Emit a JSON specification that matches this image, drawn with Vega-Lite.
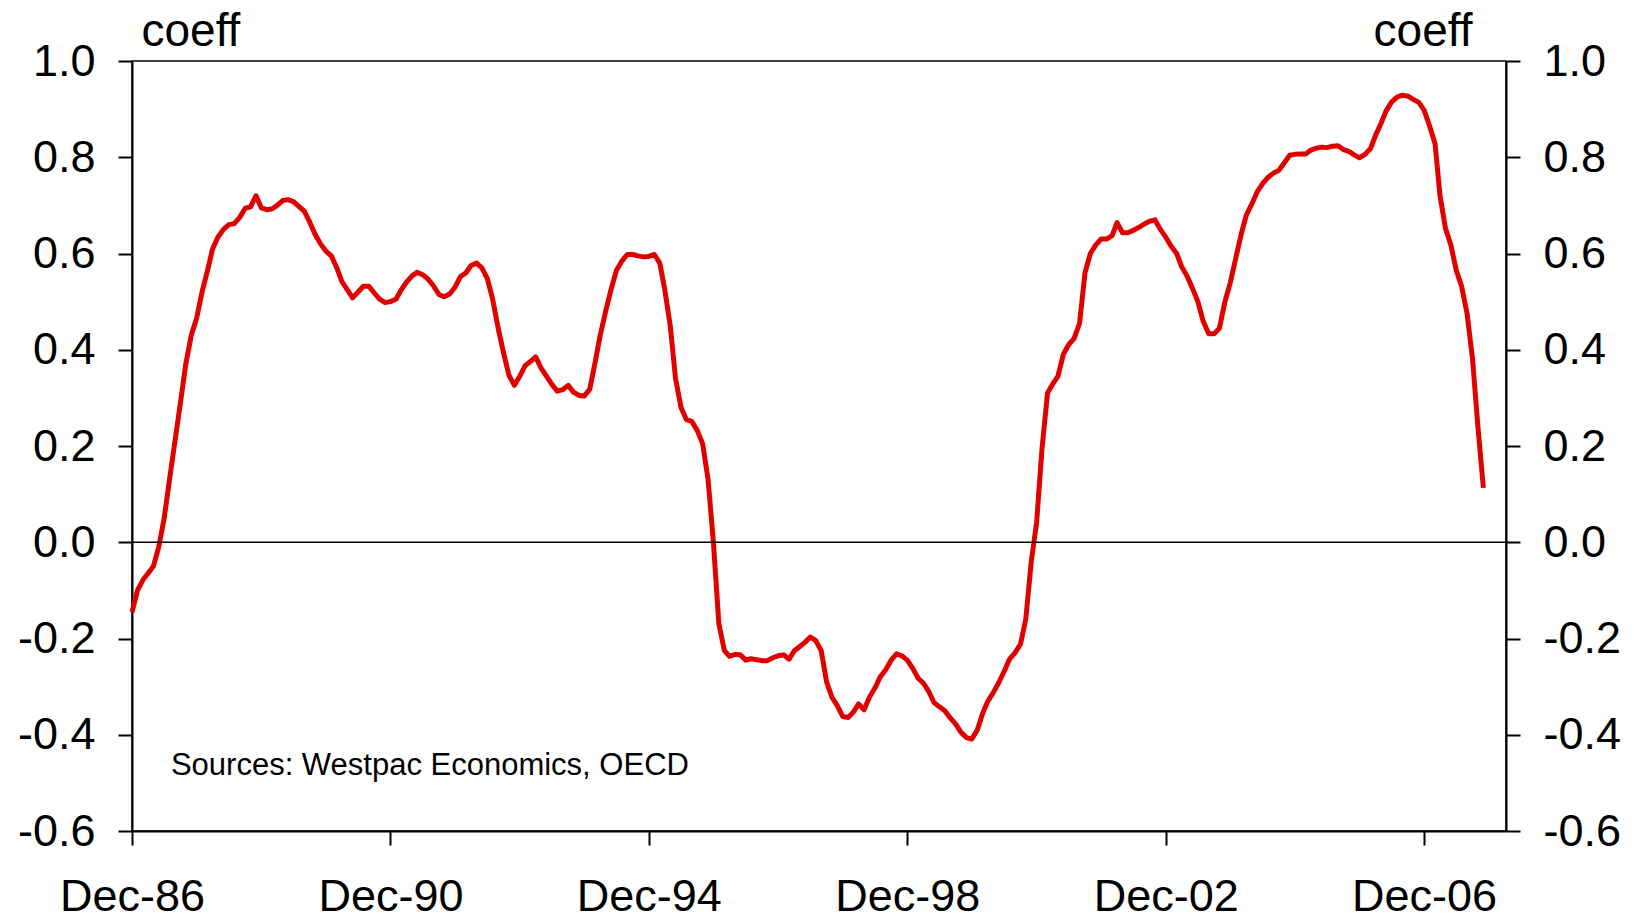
{
  "$schema": "https://vega.github.io/schema/vega-lite/v6.json",
  "autosize": {"type": "none"},
  "padding": {"left": 132, "top": 61, "right": 133, "bottom": 89},
  "width": 1374,
  "height": 770,
  "background": "white",
  "config": {
    "view": {"stroke": "black", "strokeWidth": 1.5},
    "axis": {
      "domainColor": "black", "domainWidth": 2, "tickColor": "black", "tickWidth": 2, "tickSize": 14,
      "grid": false, "labelFont": "Liberation Sans", "labelFontSize": 45, "labelColor": "black",
      "titleFont": "Liberation Sans", "titleFontSize": 46, "titleFontWeight": "normal", "titleColor": "black",
      "labelFlush": false, "labelOverlap": false
    }
  },
  "layer": [
    {
      "data": {"values": [
        {"d":"1986-12-01","v":-0.145},{"d":"1987-01-01","v":-0.10},{"d":"1987-02-01","v":-0.078},{"d":"1987-03-01","v":-0.065},
        {"d":"1987-04-01","v":-0.05},{"d":"1987-05-01","v":-0.01},{"d":"1987-06-01","v":0.05},{"d":"1987-07-01","v":0.13},
        {"d":"1987-08-01","v":0.21},{"d":"1987-09-01","v":0.29},{"d":"1987-10-01","v":0.37},{"d":"1987-11-01","v":0.43},
        {"d":"1987-12-01","v":0.465},{"d":"1988-01-01","v":0.52},{"d":"1988-02-01","v":0.565},{"d":"1988-03-01","v":0.61},
        {"d":"1988-04-01","v":0.635},{"d":"1988-05-01","v":0.65},{"d":"1988-06-01","v":0.66},{"d":"1988-07-01","v":0.662},
        {"d":"1988-08-01","v":0.675},{"d":"1988-09-01","v":0.694},{"d":"1988-10-01","v":0.697},{"d":"1988-11-01","v":0.72},
        {"d":"1988-12-01","v":0.695},{"d":"1989-01-01","v":0.691},{"d":"1989-02-01","v":0.693},{"d":"1989-03-01","v":0.70},
        {"d":"1989-04-01","v":0.71},{"d":"1989-05-01","v":0.712},{"d":"1989-06-01","v":0.708},{"d":"1989-07-01","v":0.698},
        {"d":"1989-08-01","v":0.688},{"d":"1989-09-01","v":0.665},{"d":"1989-10-01","v":0.64},{"d":"1989-11-01","v":0.62},
        {"d":"1989-12-01","v":0.605},{"d":"1990-01-01","v":0.595},{"d":"1990-02-01","v":0.57},{"d":"1990-03-01","v":0.542},
        {"d":"1990-04-01","v":0.525},{"d":"1990-05-01","v":0.508},{"d":"1990-06-01","v":0.52},{"d":"1990-07-01","v":0.532},
        {"d":"1990-08-01","v":0.532},{"d":"1990-09-01","v":0.518},{"d":"1990-10-01","v":0.505},{"d":"1990-11-01","v":0.498},
        {"d":"1990-12-01","v":0.50},{"d":"1991-01-01","v":0.505},{"d":"1991-02-01","v":0.525},{"d":"1991-03-01","v":0.54},
        {"d":"1991-04-01","v":0.553},{"d":"1991-05-01","v":0.561},{"d":"1991-06-01","v":0.556},{"d":"1991-07-01","v":0.547},
        {"d":"1991-08-01","v":0.533},{"d":"1991-09-01","v":0.515},{"d":"1991-10-01","v":0.510},{"d":"1991-11-01","v":0.516},
        {"d":"1991-12-01","v":0.53},{"d":"1992-01-01","v":0.552},{"d":"1992-02-01","v":0.560},{"d":"1992-03-01","v":0.575},
        {"d":"1992-04-01","v":0.580},{"d":"1992-05-01","v":0.570},{"d":"1992-06-01","v":0.548},{"d":"1992-07-01","v":0.505},
        {"d":"1992-08-01","v":0.445},{"d":"1992-09-01","v":0.393},{"d":"1992-10-01","v":0.347},{"d":"1992-11-01","v":0.326},
        {"d":"1992-12-01","v":0.345},{"d":"1993-01-01","v":0.367},{"d":"1993-02-01","v":0.376},{"d":"1993-03-01","v":0.385},
        {"d":"1993-04-01","v":0.362},{"d":"1993-05-01","v":0.345},{"d":"1993-06-01","v":0.328},{"d":"1993-07-01","v":0.314},
        {"d":"1993-08-01","v":0.317},{"d":"1993-09-01","v":0.326},{"d":"1993-10-01","v":0.312},{"d":"1993-11-01","v":0.305},
        {"d":"1993-12-01","v":0.304},{"d":"1994-01-01","v":0.318},{"d":"1994-02-01","v":0.375},{"d":"1994-03-01","v":0.43},
        {"d":"1994-04-01","v":0.48},{"d":"1994-05-01","v":0.525},{"d":"1994-06-01","v":0.565},{"d":"1994-07-01","v":0.584},
        {"d":"1994-08-01","v":0.598},{"d":"1994-09-01","v":0.598},{"d":"1994-10-01","v":0.595},{"d":"1994-11-01","v":0.593},
        {"d":"1994-12-01","v":0.594},{"d":"1995-01-01","v":0.598},{"d":"1995-02-01","v":0.58},{"d":"1995-03-01","v":0.525},
        {"d":"1995-04-01","v":0.45},{"d":"1995-05-01","v":0.34},{"d":"1995-06-01","v":0.28},{"d":"1995-07-01","v":0.255},
        {"d":"1995-08-01","v":0.251},{"d":"1995-09-01","v":0.232},{"d":"1995-10-01","v":0.205},{"d":"1995-11-01","v":0.13},
        {"d":"1995-12-01","v":0.0},{"d":"1996-01-01","v":-0.17},{"d":"1996-02-01","v":-0.225},{"d":"1996-03-01","v":-0.237},
        {"d":"1996-04-01","v":-0.233},{"d":"1996-05-01","v":-0.234},{"d":"1996-06-01","v":-0.245},{"d":"1996-07-01","v":-0.242},
        {"d":"1996-08-01","v":-0.244},{"d":"1996-09-01","v":-0.246},{"d":"1996-10-01","v":-0.246},{"d":"1996-11-01","v":-0.240},
        {"d":"1996-12-01","v":-0.236},{"d":"1997-01-01","v":-0.234},{"d":"1997-02-01","v":-0.243},{"d":"1997-03-01","v":-0.226},
        {"d":"1997-04-01","v":-0.217},{"d":"1997-05-01","v":-0.208},{"d":"1997-06-01","v":-0.197},{"d":"1997-07-01","v":-0.204},
        {"d":"1997-08-01","v":-0.225},{"d":"1997-09-01","v":-0.29},{"d":"1997-10-01","v":-0.322},{"d":"1997-11-01","v":-0.34},
        {"d":"1997-12-01","v":-0.362},{"d":"1998-01-01","v":-0.364},{"d":"1998-02-01","v":-0.352},{"d":"1998-03-01","v":-0.336},
        {"d":"1998-04-01","v":-0.348},{"d":"1998-05-01","v":-0.322},{"d":"1998-06-01","v":-0.303},{"d":"1998-07-01","v":-0.28},
        {"d":"1998-08-01","v":-0.265},{"d":"1998-09-01","v":-0.245},{"d":"1998-10-01","v":-0.232},{"d":"1998-11-01","v":-0.236},
        {"d":"1998-12-01","v":-0.245},{"d":"1999-01-01","v":-0.262},{"d":"1999-02-01","v":-0.283},{"d":"1999-03-01","v":-0.292},
        {"d":"1999-04-01","v":-0.31},{"d":"1999-05-01","v":-0.333},{"d":"1999-06-01","v":-0.342},{"d":"1999-07-01","v":-0.35},
        {"d":"1999-08-01","v":-0.365},{"d":"1999-09-01","v":-0.378},{"d":"1999-10-01","v":-0.395},{"d":"1999-11-01","v":-0.406},
        {"d":"1999-12-01","v":-0.409},{"d":"2000-01-01","v":-0.39},{"d":"2000-02-01","v":-0.355},{"d":"2000-03-01","v":-0.33},
        {"d":"2000-04-01","v":-0.312},{"d":"2000-05-01","v":-0.292},{"d":"2000-06-01","v":-0.268},{"d":"2000-07-01","v":-0.243},
        {"d":"2000-08-01","v":-0.23},{"d":"2000-09-01","v":-0.212},{"d":"2000-10-01","v":-0.16},{"d":"2000-11-01","v":-0.04},
        {"d":"2000-12-01","v":0.04},{"d":"2001-01-01","v":0.195},{"d":"2001-02-01","v":0.31},{"d":"2001-03-01","v":0.328},
        {"d":"2001-04-01","v":0.345},{"d":"2001-05-01","v":0.39},{"d":"2001-06-01","v":0.411},{"d":"2001-07-01","v":0.423},
        {"d":"2001-08-01","v":0.455},{"d":"2001-09-01","v":0.56},{"d":"2001-10-01","v":0.60},{"d":"2001-11-01","v":0.618},
        {"d":"2001-12-01","v":0.630},{"d":"2002-01-01","v":0.630},{"d":"2002-02-01","v":0.637},{"d":"2002-03-01","v":0.664},
        {"d":"2002-04-01","v":0.643},{"d":"2002-05-01","v":0.643},{"d":"2002-06-01","v":0.648},{"d":"2002-07-01","v":0.654},
        {"d":"2002-08-01","v":0.661},{"d":"2002-09-01","v":0.667},{"d":"2002-10-01","v":0.670},{"d":"2002-11-01","v":0.650},
        {"d":"2002-12-01","v":0.634},{"d":"2003-01-01","v":0.615},{"d":"2003-02-01","v":0.60},{"d":"2003-03-01","v":0.573},
        {"d":"2003-04-01","v":0.553},{"d":"2003-05-01","v":0.528},{"d":"2003-06-01","v":0.50},{"d":"2003-07-01","v":0.459},
        {"d":"2003-08-01","v":0.433},{"d":"2003-09-01","v":0.433},{"d":"2003-10-01","v":0.445},{"d":"2003-11-01","v":0.50},
        {"d":"2003-12-01","v":0.539},{"d":"2004-01-01","v":0.59},{"d":"2004-02-01","v":0.64},{"d":"2004-03-01","v":0.680},
        {"d":"2004-04-01","v":0.703},{"d":"2004-05-01","v":0.728},{"d":"2004-06-01","v":0.745},{"d":"2004-07-01","v":0.758},
        {"d":"2004-08-01","v":0.767},{"d":"2004-09-01","v":0.773},{"d":"2004-10-01","v":0.788},{"d":"2004-11-01","v":0.804},
        {"d":"2004-12-01","v":0.806},{"d":"2005-01-01","v":0.807},{"d":"2005-02-01","v":0.807},{"d":"2005-03-01","v":0.815},
        {"d":"2005-04-01","v":0.819},{"d":"2005-05-01","v":0.821},{"d":"2005-06-01","v":0.820},{"d":"2005-07-01","v":0.823},
        {"d":"2005-08-01","v":0.824},{"d":"2005-09-01","v":0.816},{"d":"2005-10-01","v":0.812},{"d":"2005-11-01","v":0.805},
        {"d":"2005-12-01","v":0.799},{"d":"2006-01-01","v":0.806},{"d":"2006-02-01","v":0.818},{"d":"2006-03-01","v":0.845},
        {"d":"2006-04-01","v":0.870},{"d":"2006-05-01","v":0.897},{"d":"2006-06-01","v":0.915},{"d":"2006-07-01","v":0.925},
        {"d":"2006-08-01","v":0.929},{"d":"2006-09-01","v":0.927},{"d":"2006-10-01","v":0.920},{"d":"2006-11-01","v":0.914},
        {"d":"2006-12-01","v":0.898},{"d":"2007-01-01","v":0.865},{"d":"2007-02-01","v":0.828},{"d":"2007-03-01","v":0.72},
        {"d":"2007-04-01","v":0.652},{"d":"2007-05-01","v":0.618},{"d":"2007-06-01","v":0.565},{"d":"2007-07-01","v":0.532},
        {"d":"2007-08-01","v":0.475},{"d":"2007-09-01","v":0.38},{"d":"2007-10-01","v":0.241},{"d":"2007-11-01","v":0.113}
      ]},
      "mark": {"type": "line", "color": "#e00000", "strokeWidth": 5, "strokeJoin": "round"},
      "encoding": {
        "x": {
          "field": "d", "type": "temporal",
          "scale": {"type": "utc", "domain": [{"year": 1986, "month": 12, "date": 1, "utc": true}, {"year": 2008, "month": 3, "date": 8, "utc": true}]},
          "axis": {
            "values": [
              {"year": 1986, "month": 12, "date": 1, "utc": true},
              {"year": 1990, "month": 12, "date": 1, "utc": true},
              {"year": 1994, "month": 12, "date": 1, "utc": true},
              {"year": 1998, "month": 12, "date": 1, "utc": true},
              {"year": 2002, "month": 12, "date": 1, "utc": true},
              {"year": 2006, "month": 12, "date": 1, "utc": true}
            ],
            "labelExpr": "utcFormat(datum.value, '%b-%y')",
            "labelPadding": 29, "labelAngle": 0, "title": null
          }
        },
        "y": {
          "field": "v", "type": "quantitative",
          "scale": {"domain": [-0.6, 1.0], "nice": false, "zero": false},
          "axis": {
            "orient": "left",
            "values": [-0.6, -0.4, -0.2, 0, 0.2, 0.4, 0.6, 0.8, 1.0],
            "labelExpr": "replace(format(datum.value, '.1f'), '\u2212', '-')",
            "labelPadding": 23,
            "title": "coeff", "titleAngle": 0, "titleX": 9, "titleY": -16,
            "titleAlign": "left", "titleBaseline": "alphabetic"
          }
        }
      }
    },
    {
      "data": {"values": [{}]},
      "mark": {"type": "rule", "color": "black", "strokeWidth": 1.5},
      "encoding": {
        "y": {
          "datum": 0, "type": "quantitative",
          "scale": {"domain": [-0.6, 1.0], "nice": false, "zero": false},
          "axis": {
            "orient": "right",
            "values": [-0.6, -0.4, -0.2, 0, 0.2, 0.4, 0.6, 0.8, 1.0],
            "labelExpr": "replace(format(datum.value, '.1f'), '\u2212', '-')",
            "labelPadding": 23,
            "title": "coeff", "titleAngle": 0, "titleX": -34, "titleY": -16,
            "titleAlign": "right", "titleBaseline": "alphabetic"
          }
        }
      }
    },
    {
      "data": {"values": [{}]},
      "mark": {"type": "text", "font": "Liberation Sans", "fontSize": 31, "align": "left", "baseline": "alphabetic", "color": "black"},
      "encoding": {
        "x": {
          "datum": {"year": 1987, "month": 7, "date": 9, "utc": true}, "type": "temporal",
          "scale": {"type": "utc", "domain": [{"year": 1986, "month": 12, "date": 1, "utc": true}, {"year": 2008, "month": 3, "date": 8, "utc": true}]},
          "axis": null
        },
        "y": {"datum": -0.484, "type": "quantitative", "scale": {"domain": [-0.6, 1.0], "nice": false, "zero": false}, "axis": null},
        "text": {"value": "Sources: Westpac Economics, OECD"}
      }
    }
  ],
  "resolve": {"axis": {"x": "independent", "y": "independent"}}
}
